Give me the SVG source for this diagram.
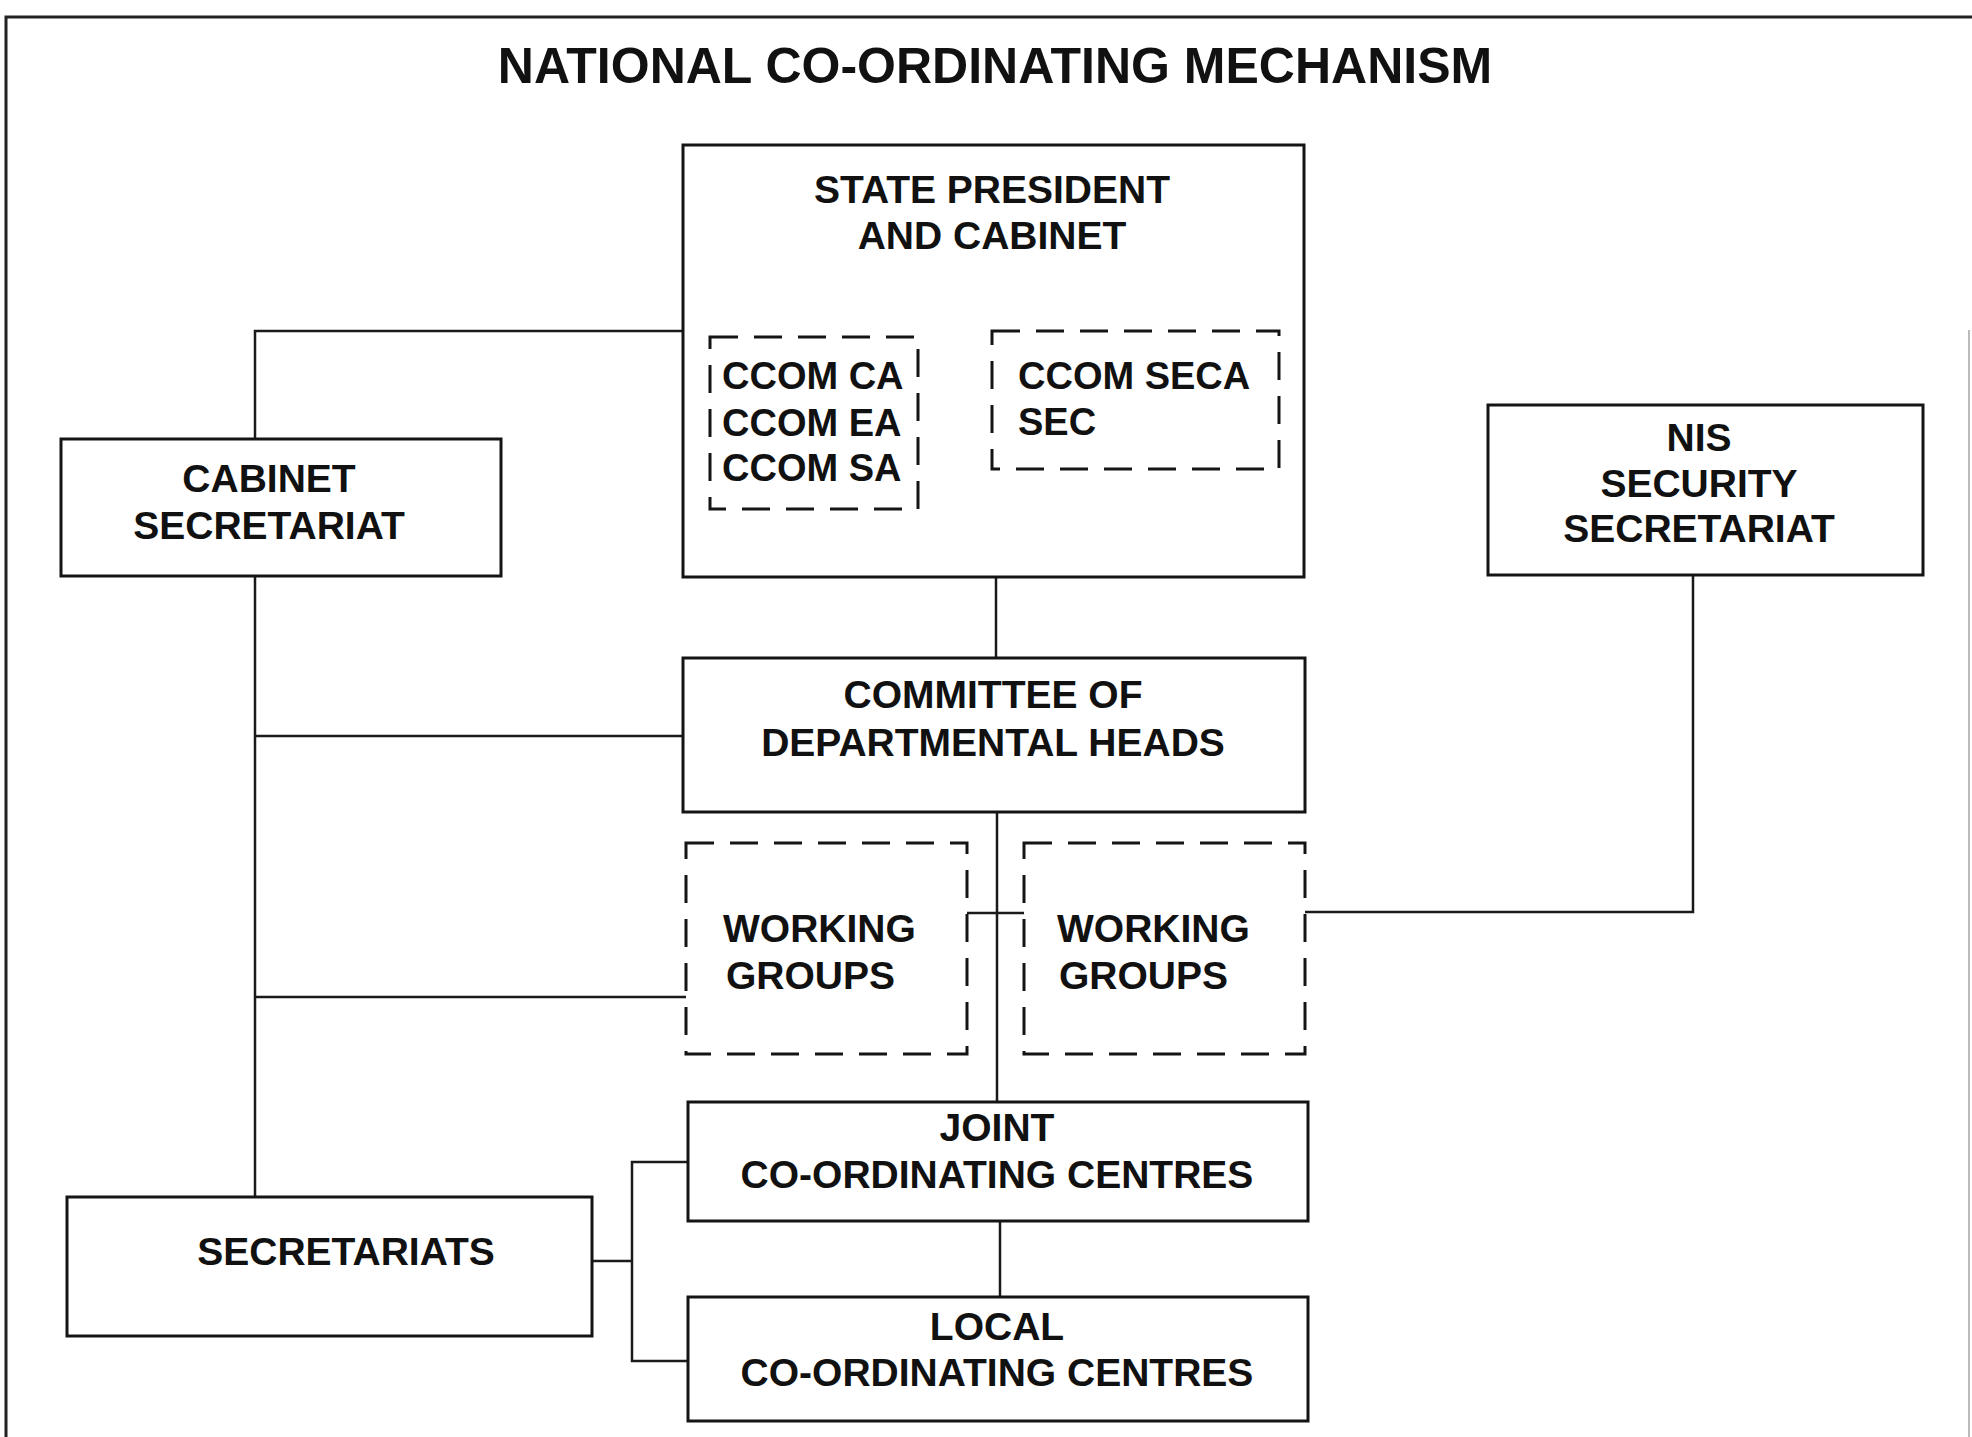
<svg xmlns="http://www.w3.org/2000/svg" width="1972" height="1437" viewBox="0 0 1972 1437">
  <style>
    .box { fill: #ffffff; stroke: #141414; stroke-width: 3; }
    .dash { fill: none; stroke: #141414; stroke-width: 3; stroke-dasharray: 28 16; }
    .conn { fill: none; stroke: #1a1a1a; stroke-width: 2.5; }
    .frame { fill: none; stroke: #222222; stroke-width: 3; }
    .t { font-family: "Liberation Sans", Arial, sans-serif; font-weight: bold; font-size: 39px; fill: #111111; }
    .s { font-size: 38px; }
    .c { text-anchor: middle; }
    .title { font-family: "Liberation Sans", Arial, sans-serif; font-weight: bold; font-size: 50px; fill: #111111; text-anchor: middle; }
  </style>
  <rect x="0" y="0" width="1972" height="1437" fill="#ffffff"/>
  <g id="frame">
    <path class="frame" d="M6,1437 V17 H1972"/>
    <line x1="1969" y1="330" x2="1969" y2="1437" stroke="#bbbbbb" stroke-width="2"/>
  </g>
  <text class="title" x="995" y="83">NATIONAL CO-ORDINATING MECHANISM</text>

  <g id="connectors">
    <path class="conn" d="M683,331 H255 V439"/>
    <path class="conn" d="M255,576 V1197"/>
    <path class="conn" d="M255,736 H683"/>
    <path class="conn" d="M255,997 H686"/>
    <path class="conn" d="M996,577 V658"/>
    <path class="conn" d="M997,812 V1102"/>
    <path class="conn" d="M967,913 H1024"/>
    <path class="conn" d="M1305,912 H1693 V575"/>
    <path class="conn" d="M592,1261 H632"/>
    <path class="conn" d="M688,1162 H632 V1361 H688"/>
    <path class="conn" d="M1000,1221 V1297"/>
  </g>

  <g id="state-president">
    <rect class="box" x="683" y="145" width="621" height="432"/>
    <text class="t c" x="992" y="203">STATE PRESIDENT</text>
    <text class="t c" x="992" y="249">AND CABINET</text>
  </g>
  <g id="ccom-ca">
    <rect class="dash" x="710" y="337" width="208" height="172"/>
    <text class="t s" x="722" y="389">CCOM CA</text>
    <text class="t s" x="722" y="436">CCOM EA</text>
    <text class="t s" x="722" y="481">CCOM SA</text>
  </g>
  <g id="ccom-seca">
    <rect class="dash" x="992" y="331" width="287" height="138"/>
    <text class="t s" x="1018" y="389">CCOM SECA</text>
    <text class="t s" x="1018" y="435">SEC</text>
  </g>
  <g id="cabinet-secretariat">
    <rect class="box" x="61" y="439" width="440" height="137"/>
    <text class="t c" x="269" y="492">CABINET</text>
    <text class="t c" x="269" y="539">SECRETARIAT</text>
  </g>
  <g id="nis">
    <rect class="box" x="1488" y="405" width="435" height="170"/>
    <text class="t c" x="1699" y="451">NIS</text>
    <text class="t c" x="1699" y="497">SECURITY</text>
    <text class="t c" x="1699" y="542">SECRETARIAT</text>
  </g>
  <g id="committee">
    <rect class="box" x="683" y="658" width="622" height="154"/>
    <text class="t c" x="993" y="708">COMMITTEE OF</text>
    <text class="t c" x="993" y="756">DEPARTMENTAL HEADS</text>
  </g>
  <g id="working-groups-1">
    <rect class="dash" x="686" y="843" width="281" height="211"/>
    <text class="t" x="723" y="942">WORKING</text>
    <text class="t" x="726" y="989">GROUPS</text>
  </g>
  <g id="working-groups-2">
    <rect class="dash" x="1024" y="843" width="281" height="211"/>
    <text class="t" x="1057" y="942">WORKING</text>
    <text class="t" x="1059" y="989">GROUPS</text>
  </g>
  <g id="joint">
    <rect class="box" x="688" y="1102" width="620" height="119"/>
    <text class="t c" x="997" y="1141">JOINT</text>
    <text class="t c" x="997" y="1188">CO-ORDINATING CENTRES</text>
  </g>
  <g id="local">
    <rect class="box" x="688" y="1297" width="620" height="124"/>
    <text class="t c" x="997" y="1340">LOCAL</text>
    <text class="t c" x="997" y="1386">CO-ORDINATING CENTRES</text>
  </g>
  <g id="secretariats">
    <rect class="box" x="67" y="1197" width="525" height="139"/>
    <text class="t c" x="346" y="1265">SECRETARIATS</text>
  </g>
</svg>
